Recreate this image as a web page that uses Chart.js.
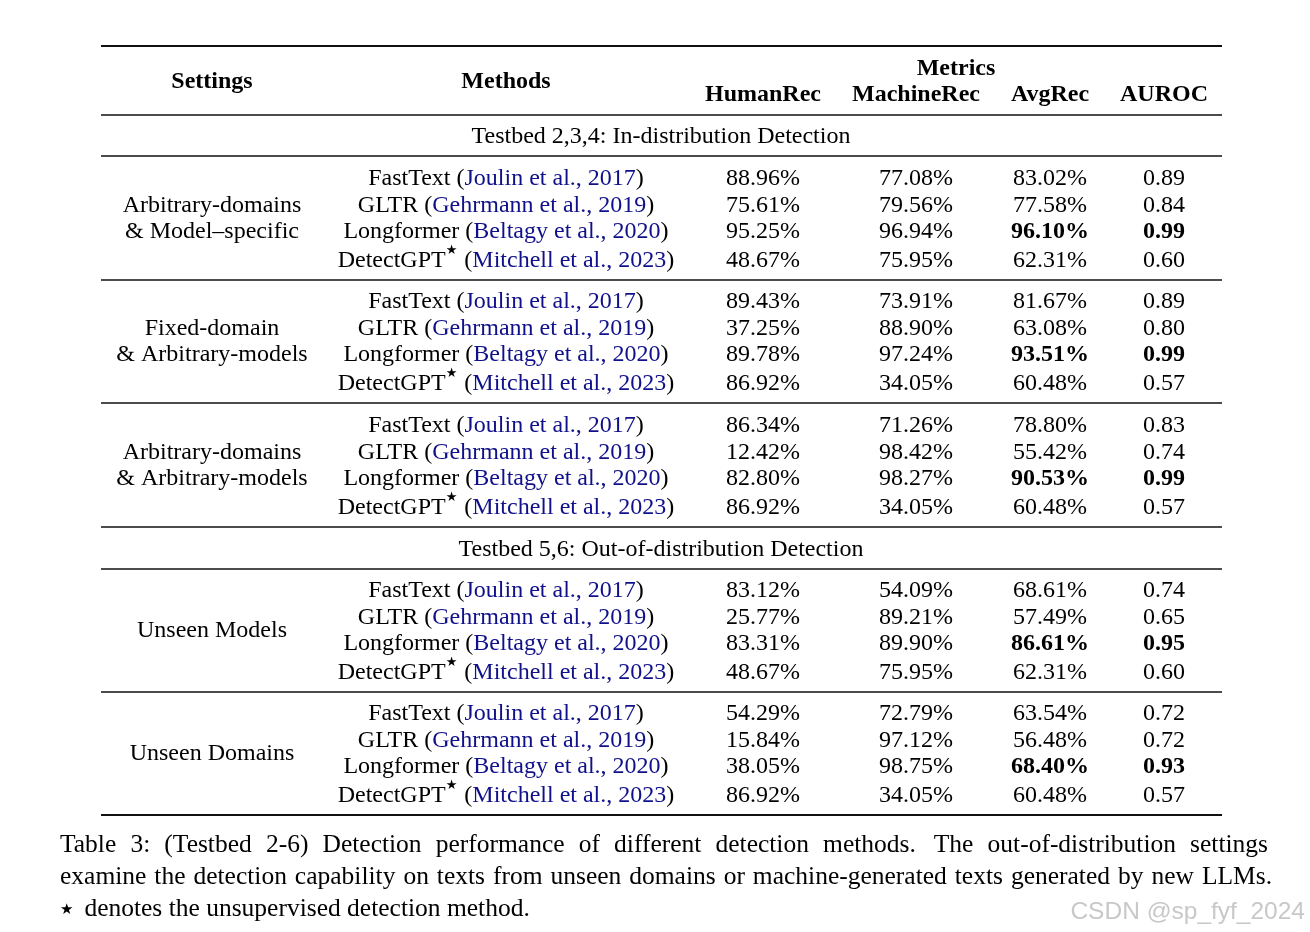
<!DOCTYPE html>
<html>
<head>
<meta charset="utf-8">
<script src="https://cdn.jsdelivr.net/npm/chart.js@4.4.1/dist/chart.umd.min.js"></script>
<style>
  html, body { margin: 0; padding: 0; background: #fff; }
  #wrap { width: 1310px; height: 932px; }
</style>
</head>
<body>
<div id="wrap"><canvas id="table" width="1310" height="932"></canvas></div>
<script>
// table content
const headerCols = ['HumanRec', 'MachineRec', 'AvgRec', 'AUROC'];
const sections = ['Testbed 2,3,4: In-distribution Detection', 'Testbed 5,6: Out-of-distribution Detection'];
const sectionBefore = [0, 3]; // group index where each section starts
const settings = [
  ['Arbitrary-domains', '& Model\u2013specific'],
  ['Fixed-domain', '& Arbitrary-models'],
  ['Arbitrary-domains', '& Arbitrary-models'],
  ['Unseen Models'],
  ['Unseen Domains']
];
const methods = ['FastText', 'GLTR', 'Longformer', 'DetectGPT'];
const unsupervised = [false, false, false, true];
const citations = ['Joulin et al., 2017', 'Gehrmann et al., 2019', 'Beltagy et al., 2020', 'Mitchell et al., 2023'];

const humanRec = [
  [88.96, 75.61, 95.25, 48.67],
  [89.43, 37.25, 89.78, 86.92],
  [86.34, 12.42, 82.80, 86.92],
  [83.12, 25.77, 83.31, 48.67],
  [54.29, 15.84, 38.05, 86.92]
];
const machineRec = [
  [77.08, 79.56, 96.94, 75.95],
  [73.91, 88.90, 97.24, 34.05],
  [71.26, 98.42, 98.27, 34.05],
  [54.09, 89.21, 89.90, 75.95],
  [72.79, 97.12, 98.75, 34.05]
];
const avgRec = [
  [83.02, 77.58, 96.10, 62.31],
  [81.67, 63.08, 93.51, 60.48],
  [78.80, 55.42, 90.53, 60.48],
  [68.61, 57.49, 86.61, 62.31],
  [63.54, 56.48, 68.40, 60.48]
];
const auroc = [
  [0.89, 0.84, 0.99, 0.60],
  [0.89, 0.80, 0.99, 0.57],
  [0.83, 0.74, 0.99, 0.57],
  [0.74, 0.65, 0.95, 0.60],
  [0.72, 0.72, 0.93, 0.57]
];

const captionLines = [
  'Table 3: (Testbed 2-6) Detection performance of different detection methods.  The out-of-distribution settings',
  'examine the detection capability on texts from unseen domains or machine-generated texts generated by new LLMs.',
  '\u22c6 denotes the unsupervised detection method.'
];
const watermark = 'CSDN @sp_fyf_2024';

// layout (in scale units = px)
const SERIF = '"Liberation Serif", "Times New Roman", serif';
const FS = 24;
const BLUE = '#10108a';
const TY = 2; // text vertical nudge
const colX = { settings: 212, methods: 506, metrics: [763, 916, 1050, 1164] };
const ruleL = 101, ruleR = 1222;
const groupTop = [177, 300, 424, 589, 712];
const rowOff = [0, 26.5, 53, 81.5];

function fmtPct(v) { return v.toFixed(2) + '%'; }

const tablePlugin = {
  id: 'tablePlugin',
  afterDraw(chart) {
    const ctx = chart.ctx;
    const xs = chart.scales.x, ys = chart.scales.y;
    const X = v => xs.getPixelForValue(v);
    const Y = v => ys.getPixelForValue(v);
    ctx.save();
    ctx.textBaseline = 'middle';

    function rule(y, w) {
      ctx.beginPath();
      ctx.lineWidth = w;
      ctx.strokeStyle = '#111';
      ctx.moveTo(X(ruleL), Y(y));
      ctx.lineTo(X(ruleR), Y(y));
      ctx.stroke();
    }
    function text(s, x, y, bold, align) {
      ctx.font = (bold ? 'bold ' : '') + FS + 'px ' + SERIF;
      ctx.fillStyle = '#000';
      ctx.textAlign = align || 'center';
      ctx.fillText(s, X(x), Y(y + TY));
    }

    // rules
    rule(46, 2.2);
    rule(115, 1.3);
    rule(156, 1.3);

    // header
    text('Settings', colX.settings, 80, true);
    text('Methods', colX.methods, 80, true);
    text('Metrics', 956, 67, true);
    headerCols.forEach((h, i) => text(h, colX.metrics[i], 93, true));

    // sections
    text(sections[0], 661, 135, false);

    settings.forEach((lines, g) => {
      const top = groupTop[g];
      const best = Math.max(...avgRec[g]);
      const bestAuc = Math.max(...auroc[g]);
      // settings label
      if (lines.length === 2) {
        text(lines[0], colX.settings, top + rowOff[1]);
        text(lines[1], colX.settings, top + rowOff[2]);
      } else {
        text(lines[0], colX.settings, top + (rowOff[1] + rowOff[2]) / 2);
      }
      methods.forEach((m, r) => {
        const y = top + rowOff[r];
        // method + citation, centered as a whole
        const mainFont = FS + 'px ' + SERIF;
        const starFont = '13px "DejaVu Sans", sans-serif';
        const parts = [{ s: m, c: '#000', f: mainFont }];
        if (unsupervised[r]) parts.push({ s: '\u2605', c: '#000', f: starFont, dy: -10 });
        parts.push({ s: ' (', c: '#000', f: mainFont });
        parts.push({ s: citations[r], c: BLUE, f: mainFont });
        parts.push({ s: ')', c: '#000', f: mainFont });
        let total = 0;
        parts.forEach(p => { ctx.font = p.f; p.w = ctx.measureText(p.s).width; total += p.w; });
        if (unsupervised[r]) total += 1;
        let cx = X(colX.methods) - total / 2;
        ctx.textAlign = 'left';
        parts.forEach(p => {
          ctx.font = p.f;
          ctx.fillStyle = p.c;
          ctx.fillText(p.s, cx, Y(y + TY) + (p.dy || 0));
          cx += p.w + (p.dy ? 1 : 0);
        });
        // metrics
        text(fmtPct(humanRec[g][r]), colX.metrics[0], y);
        text(fmtPct(machineRec[g][r]), colX.metrics[1], y);
        text(fmtPct(avgRec[g][r]), colX.metrics[2], y, avgRec[g][r] === best);
        text(auroc[g][r].toFixed(2), colX.metrics[3], y, auroc[g][r] === bestAuc && r === avgRec[g].indexOf(best));
      });
      const bottom = top + 103;
      if (g === settings.length - 1) {
        rule(bottom, 2.2);
      } else {
        rule(bottom, 1.3);
        const si = sectionBefore.indexOf(g + 1);
        if (si > 0) {
          text(sections[si], 661, bottom + 21, false);
          rule(bottom + 42, 1.3);
        }
      }
    });

    // caption
    const capFont = '25.5px ' + SERIF;
    const capY = [843, 875, 907];
    const capRight = [1268, 1272];
    ctx.font = capFont;
    ctx.fillStyle = '#000';
    ctx.textAlign = 'left';
    captionLines.forEach((line, i) => {
      if (i < 2) {
        const words = line.split(' ').filter(w => w.length);
        const spaceW = ctx.measureText(' ').width;
        let wordsW = 0;
        words.forEach(w => { wordsW += ctx.measureText(w).width; });
        const extra = line.includes('methods.  ') ? spaceW * 0.6 : 0;
        const gap = (capRight[i] - 60 - wordsW - extra) / (words.length - 1);
        let cx = X(60);
        words.forEach(w => {
          ctx.fillText(w, cx, Y(capY[i] + TY));
          cx += ctx.measureText(w).width + gap + (w === 'methods.' ? extra : 0);
        });
      } else {
        ctx.font = '15px "DejaVu Sans", sans-serif';
        ctx.fillText('\u2605', X(60), Y(capY[i] + TY) + 1);
        ctx.font = capFont;
        ctx.fillText(line.slice(1), X(78), Y(capY[i] + TY));
      }
    });

    // watermark
    ctx.font = '24.5px "Liberation Sans", Arial, sans-serif';
    ctx.fillStyle = '#c8c8c8';
    ctx.textAlign = 'right';
    ctx.fillText(watermark, X(1305), Y(910 + TY));
    ctx.restore();
  }
};

new Chart(document.getElementById('table'), {
  type: 'scatter',
  data: { datasets: [{ data: [], pointRadius: 0 }] },
  options: {
    responsive: false,
    animation: false,
    layout: { padding: 0 },
    plugins: { legend: { display: false }, tooltip: { enabled: false } },
    scales: {
      x: { type: 'linear', min: 0, max: 1310, display: false },
      y: { type: 'linear', min: 0, max: 932, reverse: true, display: false }
    }
  },
  plugins: [tablePlugin]
});
</script>
</body>
</html>
